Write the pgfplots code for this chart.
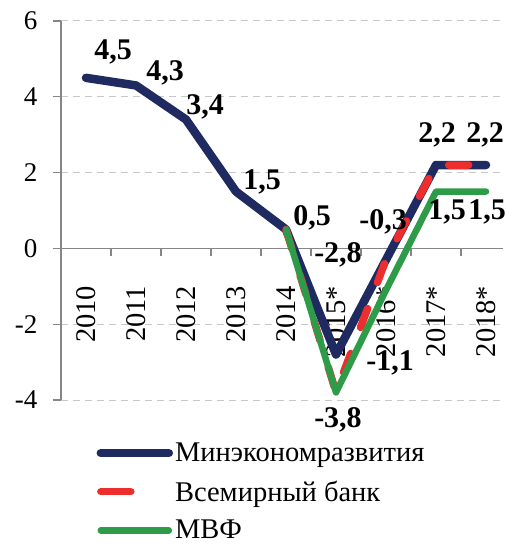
\documentclass[border=0pt]{standalone}
\usepackage{fontspec}
\setmainfont{Liberation Serif}
\usepackage{pgfplots}
\pgfplotsset{compat=1.18}
\definecolor{navy}{RGB}{31,43,96}
\definecolor{wbred}{RGB}{238,45,45}
\definecolor{imfgreen}{RGB}{46,155,72}
\definecolor{axgray}{RGB}{134,134,134}
\definecolor{grgray}{RGB}{200,200,200}
\pgfplotsset{
  longleg/.style={legend image code/.code={\draw[##1] (0bp,0bp) -- (68bp,0bp);}},
  redleg/.style={legend image code/.code={\draw[##1, solid] (0bp,0bp) -- (30bp,0bp);}},
}
\begin{document}
\begin{tikzpicture}
\begin{axis}[
  at={(61bp,145bp)}, anchor=south west,
  scale only axis, width=442bp, height=379bp,
  xmin=-0.5, xmax=8.34, ymin=-4, ymax=6,
  axis x line=middle, axis y line=left,
  axis line style={-, draw=axgray, line width=1.3bp},
  xtick={0,...,8},
  xticklabels={2010,2011,2012,2013,2014,2015*,2016*,2017*,2018*},
  minor xtick={0.5,1.5,...,7.5},
  ytick={-4,-2,...,6},
  tick align=outside,
  major x tick style={draw=none},
  minor x tick style={draw=axgray, line width=1.3bp},
  y tick style={draw=axgray, line width=1.3bp},
  major tick length=8bp, minor tick length=8bp,
  ymajorgrids,
  grid style={draw=grgray, line width=1bp, dash pattern=on 7bp off 5bp},
  xticklabel style={rotate=90, anchor=east, font=\fontsize{28.5bp}{32bp}\selectfont, xshift=-12bp},
  xticklabel shift=14bp,
  yticklabel style={font=\fontsize{27bp}{30bp}\selectfont, xshift=-12bp},
  /pgf/number format/assume math mode=true,
  clip=false,
  legend cell align=left,
  legend style={draw=none, fill=none, at={(axis description cs:0.08,-0.108)}, anchor=north west,
    font=\fontsize{28.5bp}{32bp}\selectfont, row sep=13.5bp, inner sep=0pt, nodes={inner sep=2bp}},
  longleg,
  every axis plot/.append style={line cap=round, line join=round},
]
\addplot[navy, line width=8.5bp] coordinates {(0,4.5) (1,4.3) (2,3.4) (3,1.5) (4,0.5) (5,-2.8) (6,-0.3) (7,2.2) (8,2.2)};
\addlegendentry{Минэкономразвития}
\addplot[wbred, line width=7.5bp, dash pattern=on 20bp off 28bp, redleg] coordinates {(4,0.5) (5,-3.8) (6,-0.3) (7,2.2) (8,2.2)};
\addlegendentry{Всемирный банк}
\addplot[imfgreen, line width=6.5bp] coordinates {(4,0.5) (5,-3.8) (6,-1.1) (7,1.5) (8,1.5)};
\addlegendentry{МВФ}
\begin{scope}[every node/.style={font=\fontsize{30bp}{34bp}\selectfont\bfseries}]
\node at (axis cs:0.54,5.19) {4,5};
\node at (axis cs:1.58,4.64) {4,3};
\node at (axis cs:2.38,3.74) {3,4};
\node at (axis cs:3.52,1.76) {1,5};
\node at (axis cs:4.52,0.81) {0,5};
\node at (axis cs:5.04,-0.17) {-2,8};
\node at (axis cs:5.94,0.70) {-0,3};
\node at (axis cs:7.22,0.97) {1,5};
\node at (axis cs:8.02,0.97) {1,5};
\node at (axis cs:6.08,-3.02) {-1,1};
\node at (axis cs:5.04,-4.52) {-3,8};
\node at (axis cs:7.02,3.0) {2,2};
\node at (axis cs:7.98,3.0) {2,2};
\end{scope}
\end{axis}
\pgfresetboundingbox
\path (0,0) rectangle (505bp,545bp);
\end{tikzpicture}
\end{document}
